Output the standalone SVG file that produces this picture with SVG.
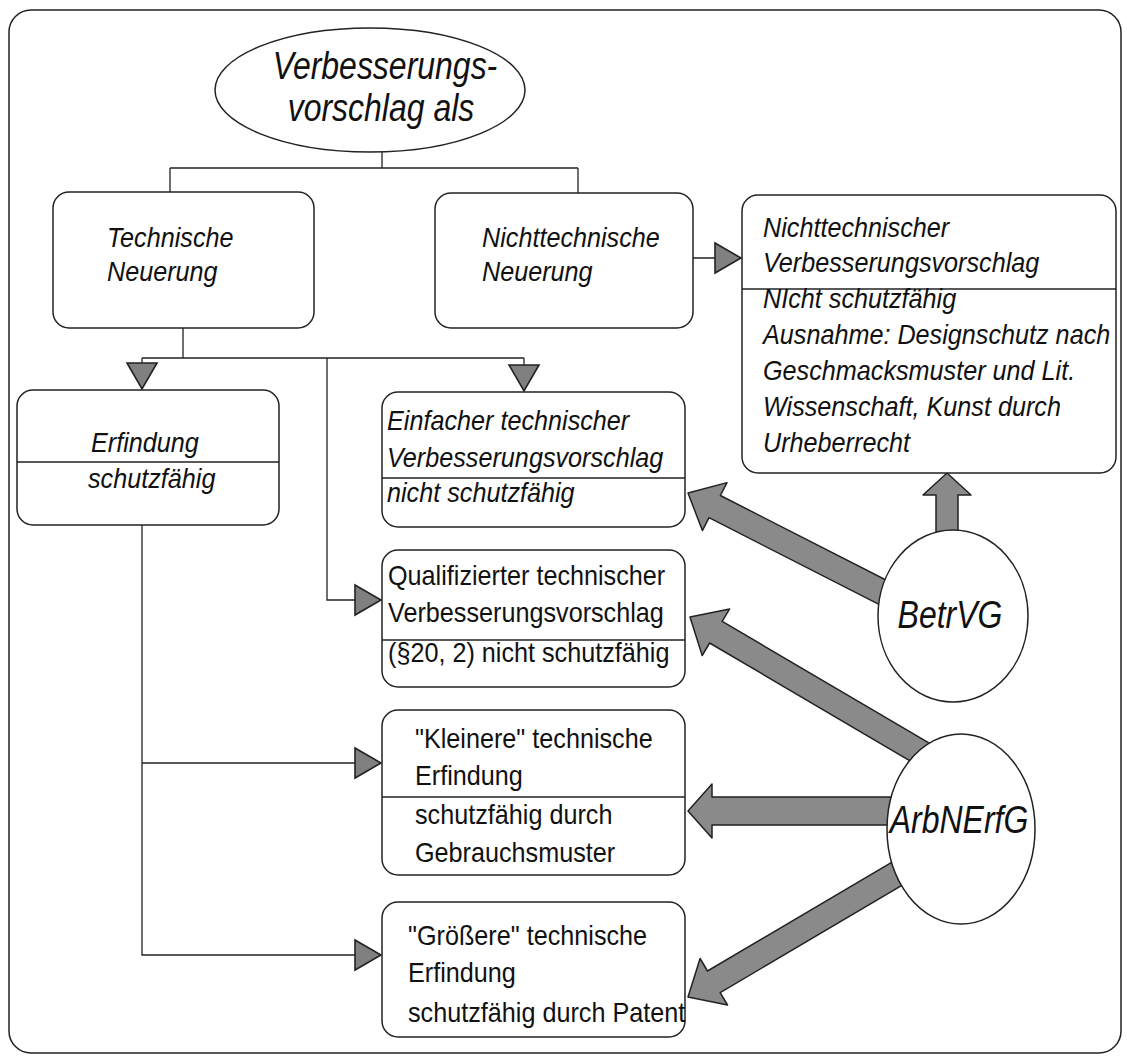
<svg xmlns="http://www.w3.org/2000/svg" width="1127" height="1057" viewBox="0 0 1127 1057">
<style>
.t{font-family:"Liberation Sans",Arial,sans-serif;font-size:28px;fill:#111}
.i{font-style:italic}
.big{font-size:39px}
.box{fill:#fff;stroke:#222;stroke-width:1.5}
.div{stroke:#222;stroke-width:1.5}
.ln{fill:none;stroke:#222;stroke-width:1.3}
.arw{fill:#8a8a8a;stroke:#222;stroke-width:1.5;stroke-linejoin:round}
</style>
<defs>
<marker id="tri" viewBox="0 0 30 34" markerWidth="30" markerHeight="34" refX="28" refY="17" orient="auto" markerUnits="userSpaceOnUse">
<path d="M2,2 L28,17 L2,32 Z" fill="#808080" stroke="#222" stroke-width="1.6"/>
</marker>
</defs>
<rect id="frame" x="9" y="10" width="1112" height="1043" rx="22" fill="#fff" stroke="#222" stroke-width="1.5"/>
<g id="connectors">
<path class="ln" d="M382,152 V168 M170,168 H578 M170,168 V192 M578,168 V193"/>
<path class="ln" d="M183,328 V358 M142,358 H524"/>
<path class="ln" marker-end="url(#tri)" d="M142,358 V389"/>
<path class="ln" marker-end="url(#tri)" d="M524,358 V391"/>
<path class="ln" marker-end="url(#tri)" d="M327,358 V600 H381"/>
<path class="ln" marker-end="url(#tri)" d="M693,258 H741"/>
<path class="ln" marker-end="url(#tri)" d="M142,525 V955 H381"/>
<path class="ln" marker-end="url(#tri)" d="M142,763 H381"/>
<polygon class="arw" points="907.5,591.0 720.4,495.5 727.0,482.6 688,493 702.4,530.6 709.0,517.7 896.1,613.2"/>
<polygon class="arw" points="946.3,753.2 722.2,621.4 729.6,608.9 690,617 702.2,655.5 709.6,643.0 933.7,774.8"/>
<polygon class="arw" points="925,797 712,797 712,784 688,811 712,838 712,825 925,825"/>
<polygon class="arw" points="939.9,833.8 707.5,971.0 700.1,958.5 688,997 727.5,1005.0 720.2,992.6 952.7,855.4"/>
<polygon class="arw" points="936,548 936,495 923,495 947,473 971,495 958,495 958,548"/>
</g>
<g id="n-root">
<ellipse cx="370" cy="90" rx="155" ry="62" fill="#fff" stroke="#222" stroke-width="1.5"/>
<text class="t i big" text-anchor="middle" transform="translate(385,79) scale(0.82,1)">Verbesserungs-</text>
<text class="t i big" text-anchor="middle" transform="translate(381,121) scale(0.82,1)">vorschlag als</text>
</g>
<g id="n-tech">
<rect class="box" x="53" y="192" width="261" height="136" rx="16"/>
<text class="t i" transform="translate(107,247) scale(0.9,1)">Technische</text>
<text class="t i" transform="translate(107,281) scale(0.9,1)">Neuerung</text>
</g>
<g id="n-nontech">
<rect class="box" x="435" y="193" width="258" height="135" rx="16"/>
<text class="t i" transform="translate(482,247) scale(0.9,1)">Nichttechnische</text>
<text class="t i" transform="translate(482,281) scale(0.9,1)">Neuerung</text>
</g>
<g id="n-nontech-vv">
<rect class="box" x="742" y="195" width="374" height="278" rx="16"/>
<line class="div" x1="742" y1="289" x2="1116" y2="289"/>
<text class="t i" transform="translate(763,237) scale(0.9,1)">Nichttechnischer</text>
<text class="t i" transform="translate(763,272) scale(0.9,1)">Verbesserungsvorschlag</text>
<text class="t i" transform="translate(763,308) scale(0.9,1)">NIcht schutzfähig</text>
<text class="t i" transform="translate(763,344) scale(0.9,1)">Ausnahme: Designschutz nach</text>
<text class="t i" transform="translate(763,380) scale(0.9,1)">Geschmacksmuster und Lit.</text>
<text class="t i" transform="translate(763,416) scale(0.9,1)">Wissenschaft, Kunst durch</text>
<text class="t i" transform="translate(763,452) scale(0.9,1)">Urheberrecht</text>
</g>
<g id="n-erfindung">
<rect class="box" x="17" y="390" width="262" height="135" rx="16"/>
<line class="div" x1="17" y1="462" x2="279" y2="462"/>
<text class="t i" transform="translate(91,452) scale(0.9,1)">Erfindung</text>
<text class="t i" transform="translate(88,488) scale(0.9,1)">schutzfähig</text>
</g>
<g id="n-einfach">
<rect class="box" x="382" y="392" width="303" height="135" rx="16"/>
<line class="div" x1="382" y1="478" x2="685" y2="478"/>
<text class="t i" transform="translate(387,430) scale(0.9,1)">Einfacher technischer</text>
<text class="t i" transform="translate(387,467) scale(0.9,1)">Verbesserungsvorschlag</text>
<text class="t i" transform="translate(387,502) scale(0.9,1)">nicht schutzfähig</text>
</g>
<g id="n-qual">
<rect class="box" x="382" y="550" width="303" height="137" rx="16"/>
<line class="div" x1="382" y1="640" x2="685" y2="640"/>
<text class="t" transform="translate(388,585) scale(0.9,1)">Qualifizierter technischer</text>
<text class="t" transform="translate(388,622) scale(0.9,1)">Verbesserungsvorschlag</text>
<text class="t" transform="translate(388,662) scale(0.9,1)">(§20, 2) nicht schutzfähig</text>
</g>
<g id="n-klein">
<rect class="box" x="382" y="710" width="303" height="165" rx="16"/>
<line class="div" x1="382" y1="797" x2="685" y2="797"/>
<text class="t" transform="translate(415,748) scale(0.9,1)">"Kleinere" technische</text>
<text class="t" transform="translate(415,785) scale(0.9,1)">Erfindung</text>
<text class="t" transform="translate(415,824) scale(0.9,1)">schutzfähig durch</text>
<text class="t" transform="translate(415,862) scale(0.9,1)">Gebrauchsmuster</text>
</g>
<g id="n-gross">
<rect class="box" x="382" y="902" width="303" height="135" rx="16"/>
<text class="t" transform="translate(408,945) scale(0.9,1)">"Größere" technische</text>
<text class="t" transform="translate(408,982) scale(0.9,1)">Erfindung</text>
<text class="t" transform="translate(408,1022) scale(0.9,1)">schutzfähig durch Patent</text>
</g>
<g id="n-betrvg">
<ellipse cx="953" cy="616" rx="75" ry="86" fill="#fff" stroke="#222" stroke-width="1.5"/>
<text class="t i big" text-anchor="middle" transform="translate(950,628) scale(0.82,1)">BetrVG</text>
</g>
<g id="n-arbnerfg">
<ellipse cx="961" cy="829" rx="74" ry="95" fill="#fff" stroke="#222" stroke-width="1.5"/>
<text class="t i big" text-anchor="middle" transform="translate(959,833) scale(0.82,1)">ArbNErfG</text>
</g>
</svg>
